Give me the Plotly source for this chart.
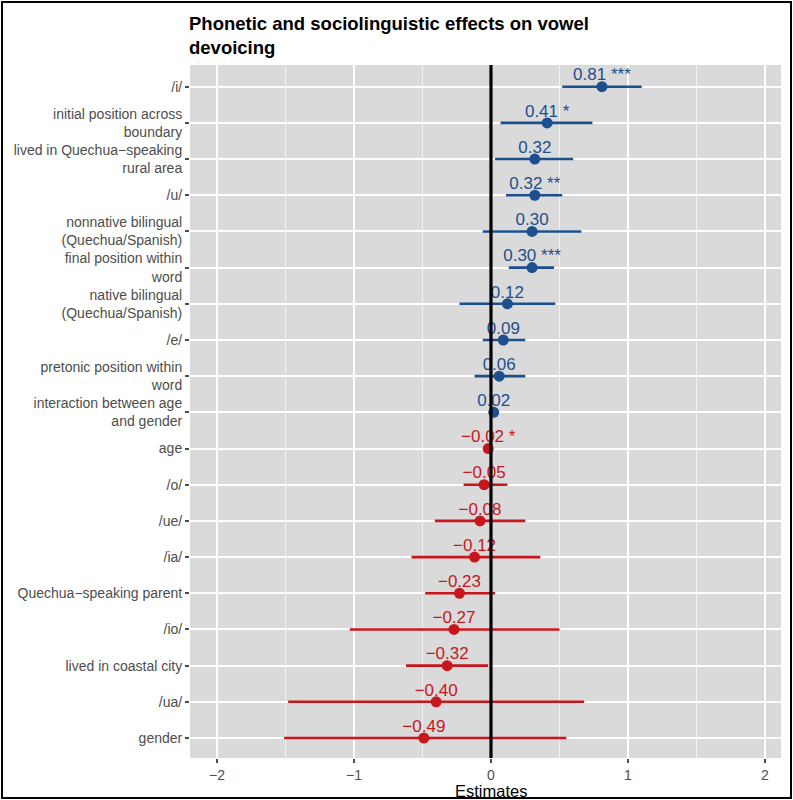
import plotly.graph_objects as go

# Model terms, top to bottom
terms = [
    "/i/",
    "initial position across<br>boundary",
    "lived in Quechua−speaking<br>rural area",
    "/u/",
    "nonnative bilingual<br>(Quechua/Spanish)",
    "final position within<br>word",
    "native bilingual<br>(Quechua/Spanish)",
    "/e/",
    "pretonic position within<br>word",
    "interaction between age<br>and gender",
    "age",
    "/o/",
    "/ue/",
    "/ia/",
    "Quechua−speaking parent",
    "/io/",
    "lived in coastal city",
    "/ua/",
    "gender",
]
estimates = [0.81, 0.41, 0.32, 0.32, 0.30, 0.30, 0.12, 0.09, 0.06, 0.02,
             -0.02, -0.05, -0.08, -0.12, -0.23, -0.27, -0.32, -0.40, -0.49]
ci_low = [0.52, 0.07, 0.03, 0.11, -0.06, 0.13, -0.23, -0.06, -0.12, 0.01,
          -0.03, -0.20, -0.41, -0.58, -0.48, -1.03, -0.62, -1.48, -1.51]
ci_high = [1.10, 0.74, 0.60, 0.52, 0.66, 0.46, 0.47, 0.25, 0.25, 0.03,
           -0.01, 0.12, 0.25, 0.36, 0.03, 0.50, -0.02, 0.68, 0.55]
stars = ["***", "*", "", "**", "", "***", "", "", "", "",
         "*", "", "", "", "", "", "", "", ""]
x_ticks = [-2, -1, 0, 1, 2]

BLUE = "#1d4f8e"
RED = "#c8161d"
PANEL = "#dadada"
FONT = "Liberation Sans, Arial, sans-serif"
W, H = 793, 800
ML, MR, MT, MB = 190, 12, 65, 42

n = len(terms)
ypos = [n - 1 - i for i in range(n)]
pw = W - ML - MR
ph = H - MT - MB


def fmt(v):
    return f"{v:.2f}".replace("-", "−")


def px_y(py):
    # pixel row -> paper y
    return (H - MB - py) / ph


def px_x(px):
    # pixel column -> paper x
    return (px - ML) / pw


fig = go.Figure()

for positive, color in ((True, BLUE), (False, RED)):
    idx = [i for i in range(n) if (estimates[i] > 0) == positive]
    fig.add_trace(go.Scatter(
        x=[estimates[i] for i in idx],
        y=[ypos[i] for i in idx],
        mode="markers",
        marker=dict(color=color, size=11),
        error_x=dict(
            type="data", symmetric=False,
            array=[ci_high[i] - estimates[i] for i in idx],
            arrayminus=[estimates[i] - ci_low[i] for i in idx],
            color=color, thickness=2.6, width=0,
        ),
        showlegend=False,
        hoverinfo="skip",
    ))
    fig.add_trace(go.Scatter(
        x=[estimates[i] for i in idx],
        y=[ypos[i] + 0.29 for i in idx],
        mode="text",
        text=[fmt(estimates[i]) + (" " + stars[i] if stars[i] else "") for i in idx],
        textposition="middle center",
        textfont=dict(family=FONT, size=17, color=color),
        showlegend=False,
        hoverinfo="skip",
    ))

# reference line at zero
fig.add_shape(type="line", xref="x", yref="paper", x0=0, x1=0, y0=0, y1=1,
              line=dict(color="black", width=3.2), layer="above")

# outer frame around the figure
fig.add_shape(type="rect", xref="paper", yref="paper",
              x0=px_x(2), x1=px_x(791), y0=px_y(798), y1=px_y(2),
              line=dict(color="black", width=2), layer="above")

fig.add_annotation(
    xref="paper", yref="paper", x=px_x(187), y=px_y(11),
    xanchor="left", yanchor="top", showarrow=False, align="left",
    text="<b>Phonetic and sociolinguistic effects on vowel<br>devoicing</b>",
    font=dict(family=FONT, size=18.5, color="black"),
)
fig.add_annotation(
    xref="x", yref="paper", x=0, y=px_y(791),
    xanchor="center", yanchor="middle", showarrow=False,
    text="Estimates",
    font=dict(family=FONT, size=16.5, color="black"),
)

fig.update_layout(
    width=W, height=H,
    margin=dict(l=ML, r=MR, t=MT, b=MB, autoexpand=False),
    paper_bgcolor="white",
    plot_bgcolor=PANEL,
    font=dict(family=FONT),
)
fig.update_xaxes(
    range=[-2.197, 2.117],
    tickvals=x_ticks,
    ticktext=[str(v).replace("-", "−") for v in x_ticks],
    tickfont=dict(size=14, color="#4d4d4d"),
    ticks="outside", ticklen=4, tickcolor="#4d4d4d", tickwidth=1.5,
    showgrid=True, gridcolor="white", gridwidth=1.6,
    minor=dict(dtick=0.5, tick0=0.5, showgrid=True, gridcolor="#f0f0f0", gridwidth=0.8),
    zeroline=False, showline=False, automargin=False,
)
fig.update_yaxes(
    range=[-0.553, 18.6],
    tickvals=ypos,
    ticktext=terms,
    tickfont=dict(size=14, color="#4d4d4d"),
    ticks="outside", ticklen=4, tickcolor="#4d4d4d", tickwidth=1.5,
    showgrid=True, gridcolor="white", gridwidth=1.6,
    zeroline=False, showline=False, automargin=False,
)

fig.write_html("out.html")
